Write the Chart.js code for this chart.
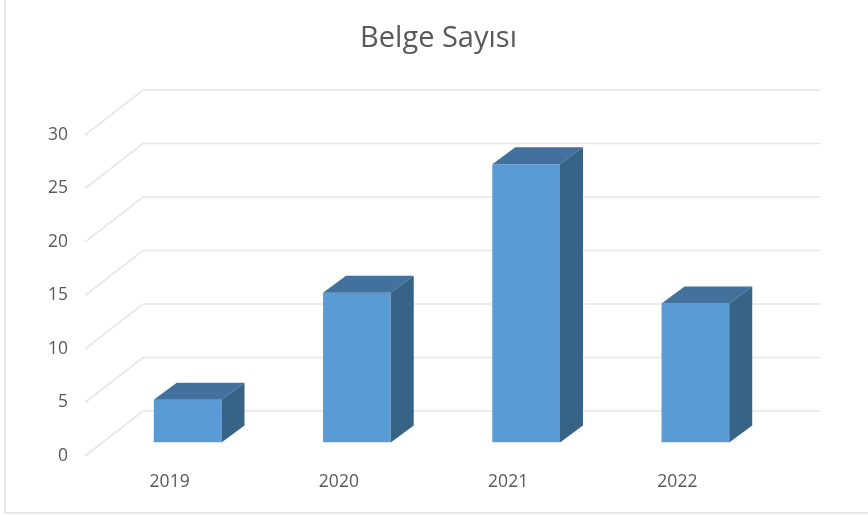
<!DOCTYPE html>
<html><head><meta charset="utf-8">
<style>
html,body{margin:0;padding:0;background:#fff}
#wrap{position:absolute;left:0;top:0;width:868px;height:515px;overflow:hidden}
#frame{position:absolute;left:4px;top:-3px;width:870px;height:517px;border:2px solid #e6e6e6;box-sizing:border-box}
canvas{position:absolute;left:0;top:0}
</style>
<script src="https://cdn.jsdelivr.net/npm/chart.js@4"></script>
</head><body>
<div id="wrap"><div id="frame"></div><canvas id="c" width="868" height="515"></canvas></div>
<script>
const categories = ['2019','2020','2021','2022'];
const documents = [4,14,26,13];
const chartTitle = 'Belge Sayısı';
const FONT = '"Open Sans", sans-serif';

const box3d = {
  id:'box3d',
  beforeDatasetsDraw(chart){
    const {ctx,scales:{y},chartArea:a}=chart;
    const backX=58, backY=45;
    ctx.save();
    ctx.strokeStyle='#e7e7e7'; ctx.lineWidth=1.6;
    y.ticks.forEach(t=>{
      const p=y.getPixelForValue(t.value);
      ctx.beginPath();
      ctx.moveTo(a.left,p);
      ctx.lineTo(a.left+backX,p-backY);
      ctx.lineTo(a.right+backX+1,p-backY);
      ctx.stroke();
    });
    ctx.restore();
    ctx.save();
    ctx.translate(18,-13.5);
  },
  afterDatasetsDraw(chart){
    const {ctx}=chart;
    const dx=23, dy=17;
    chart.getDatasetMeta(0).data.forEach(b=>{
      const l=b.x-b.width/2, r=b.x+b.width/2, t=b.y, bt=b.base;
      ctx.fillStyle='#41719c';
      ctx.beginPath();ctx.moveTo(l,t);ctx.lineTo(l+dx,t-dy);ctx.lineTo(r+dx,t-dy);ctx.lineTo(r,t);ctx.closePath();ctx.fill();
      ctx.fillStyle='#376387';
      ctx.beginPath();ctx.moveTo(r,t);ctx.lineTo(r+dx,t-dy);ctx.lineTo(r+dx,bt-dy);ctx.lineTo(r,bt);ctx.closePath();ctx.fill();
    });
    ctx.restore();
  }
};

new Chart(document.getElementById('c'),{
  type:'bar',
  data:{labels:categories,datasets:[{data:documents,backgroundColor:'#5b9bd5',barPercentage:0.4,categoryPercentage:1}]},
  plugins:[box3d],
  options:{
    responsive:false,animation:false,
    layout:{padding:{left:9,right:0,top:0,bottom:0}},
    plugins:{
      legend:{display:false},tooltip:{enabled:false},
      title:{display:true,text:chartTitle,color:'#595959',font:{family:FONT,size:29,weight:'normal',lineHeight:1.2},padding:{top:21.6,bottom:78.6}}
    },
    scales:{
      x:{grid:{display:false},border:{display:false},
         ticks:{color:'#595959',font:{family:FONT,size:17.5},padding:8},
         afterFit(s){s.height=59;}},
      y:{min:0,max:30,grid:{display:false},border:{display:false},
         ticks:{stepSize:5,color:'#595959',font:{family:FONT,size:17.5},padding:9},
         afterFit(s){s.width=76;}},
      rightGutter:{position:'right',grid:{display:false},border:{display:false},ticks:{display:false},
         afterFit(s){s.width=106;}}
    }
  }
});
</script>
</body></html>
